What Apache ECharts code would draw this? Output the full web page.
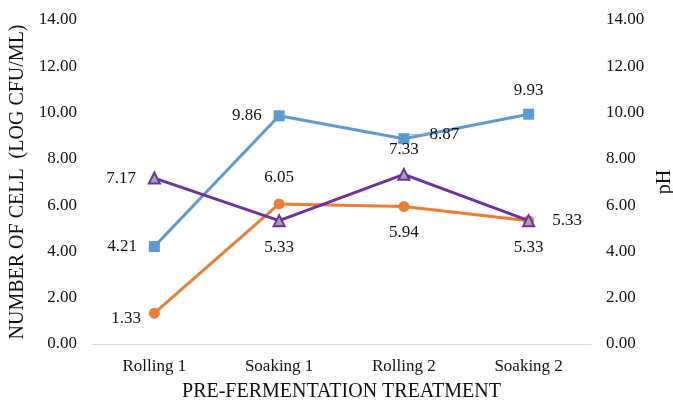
<!DOCTYPE html>
<html>
<head>
<meta charset="utf-8">
<script src="https://cdn.jsdelivr.net/npm/echarts@6/dist/echarts.min.js"></script>
<style>
  html, body { margin: 0; padding: 0; background: #fff; }
  #chart { width: 673px; height: 401px; }
</style>
</head>
<body>
<div id="chart"></div>
<script>
// Pre-fermentation treatments along the x axis
const categories = ['Rolling 1', 'Soaking 1', 'Rolling 2', 'Soaking 2'];
// Cell counts (log CFU/mL), two series, and pH
const cellsA = [4.21, 9.86, 8.87, 9.93];
const cellsB = [1.33, 6.05, 5.94, 5.33];
const phValues = [7.17, 5.33, 7.33, 5.33];
// Shared tick range for both vertical axes
const yMin = 0, yMax = 14, yStep = 2;

const FONT = '"Liberation Serif", "Times New Roman", serif';
const TEXT = '#111';

function labelFor(position, extra) {
  return Object.assign({
    show: true,
    position: position,
    distance: 8,
    color: TEXT,
    fontFamily: FONT,
    fontSize: 17,
    formatter: p => p.value.toFixed(2)
  }, extra || {});
}

function withLabels(values, specs) {
  return values.map((v, i) => {
    const item = { value: v, label: labelFor(specs[i][0], specs[i][1]) };
    if (specs[i][2]) item.labelLine = specs[i][2];
    return item;
  });
}

const valueAxisBase = {
  type: 'value',
  min: yMin,
  max: yMax,
  interval: yStep,
  splitLine: { show: false },
  axisLine: { show: false },
  axisTick: { show: false },
  nameLocation: 'middle',
  nameRotate: 90,
  nameTextStyle: { color: TEXT, fontFamily: FONT, fontSize: 20 }
};

const chart = echarts.init(document.getElementById('chart'), null, { renderer: 'canvas' });
chart.setOption({
  animation: false,
  backgroundColor: '#fff',
  grid: { left: 92, right: 82, top: 20, bottom: 57, containLabel: false, outerBoundsMode: 'none' },
  xAxis: {
    type: 'category',
    data: categories,
    boundaryGap: true,
    axisLine: { show: true, lineStyle: { color: '#D9D9D9', width: 1 } },
    axisTick: { show: false },
    axisLabel: { color: TEXT, fontFamily: FONT, fontSize: 17, margin: 14 },
    name: 'PRE-FERMENTATION TREATMENT',
    nameLocation: 'middle',
    nameGap: 38,
    nameTextStyle: { color: TEXT, fontFamily: FONT, fontSize: 20 }
  },
  yAxis: [
    Object.assign({}, valueAxisBase, {
      position: 'left',
      name: 'NUMBER OF CELL  (LOG CFU/ML)',
      nameGap: 64,
      axisLabel: { color: TEXT, fontFamily: FONT, fontSize: 17, margin: 15,
                   formatter: v => v.toFixed(2) }
    }),
    Object.assign({}, valueAxisBase, {
      position: 'right',
      name: 'pH',
      nameGap: 62,
      axisLabel: { color: TEXT, fontFamily: FONT, fontSize: 17, margin: 15,
                   formatter: v => v.toFixed(2) }
    })
  ],
  series: [
    {
      name: 'Cells A',
      type: 'line',
      yAxisIndex: 0,
      data: withLabels(cellsA, [
        ['left', { distance: 12 }],
        ['left', { distance: 12 }],
        ['right', { distance: 6 }, { show: true, lineStyle: { color: '#A6A6A6', width: 1 } }],
        ['top', { distance: 10 }]
      ]),
      labelLayout: p => (p.dataIndex === 2 ? { dx: 14, dy: -4 } : {}),
      symbol: 'rect',
      symbolSize: 11,
      lineStyle: { color: '#5B9BD5', width: 3 },
      itemStyle: { color: '#5B9BD5' },
      z: 2
    },
    {
      name: 'Cells B',
      type: 'line',
      yAxisIndex: 0,
      data: withLabels(cellsB, [
        ['left', { distance: 8, offset: [0, 5] }],
        ['top', { distance: 12 }],
        ['bottom', { distance: 12 }],
        ['right', { distance: 18 }]
      ]),
      symbol: 'circle',
      symbolSize: 11,
      lineStyle: { color: '#ED7D31', width: 3 },
      itemStyle: { color: '#ED7D31' },
      z: 3
    },
    {
      name: 'pH',
      type: 'line',
      yAxisIndex: 1,
      data: withLabels(phValues, [
        ['left', { distance: 12 }],
        ['bottom', { distance: 12 }],
        ['top', { distance: 10 }],
        ['bottom', { distance: 12 }]
      ]),
      symbol: 'triangle',
      symbolSize: 11,
      lineStyle: { color: '#7030A0', width: 3 },
      itemStyle: { color: '#A5A5A5', borderColor: '#7030A0', borderWidth: 2 },
      z: 4
    }
  ]
});
</script>
</body>
</html>
